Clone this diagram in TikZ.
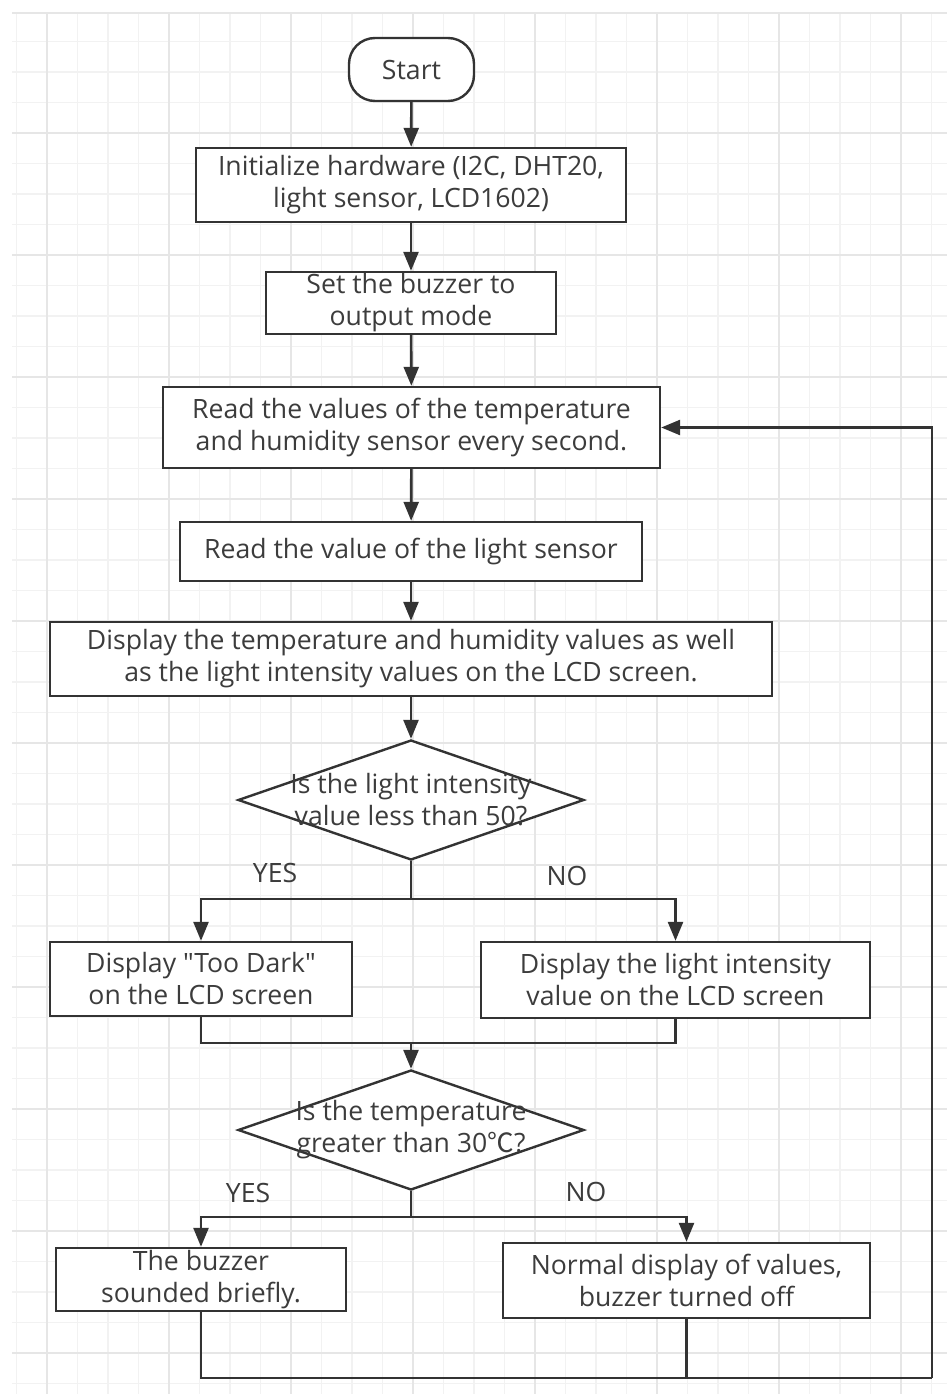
\documentclass[tikz,border=0pt]{standalone}
\usepackage{fontspec}
% plain family (no TeX ligature mapping) so " stays a straight quote
\newfontfamily\flowfont{Open Sans}
\newfontfamily\cjkfont{Noto Sans CJK SC}
\usetikzlibrary{shapes.geometric,arrows.meta}
\definecolor{ink}{HTML}{333333}
\definecolor{txt}{HTML}{3C3C3C}
\definecolor{gridminor}{HTML}{F2F2F2}
\definecolor{gridmajor}{HTML}{E6E6E6}
\begin{document}
\begin{tikzpicture}[x=1pt,y=-1pt,
  every node/.style={font=\flowfont\fontsize{26.6}{32}\selectfont, text=txt},
  procbox/.style={draw=ink, line width=2.4pt, fill=white, rectangle, align=center, inner sep=0pt},
  termbox/.style={procbox, rounded corners=26pt},
  decbox/.style={draw=ink, line width=2.4pt, fill=white, diamond, inner sep=0pt},
  flow/.style={draw=ink, line width=2.6pt},
  arr/.style={flow, -{Triangle[length=19pt,width=15pt]}},
  lbl/.style={inner sep=0pt}
]
% page and grid paper
\fill[white] (0,0) rectangle (947,1394);
\useasboundingbox (0,0) rectangle (947,1394);
\begin{scope}
  \clip (12,13) rectangle (947,1394);
  \foreach \k in {0,...,31} {
    \draw[gridminor, line width=1.6pt] (16.5+30.5*\k,13) -- (16.5+30.5*\k,1394);
  }
  \foreach \k in {0,...,45} {
    \draw[gridminor, line width=1.6pt] (12,11+30.5*\k) -- (947,11+30.5*\k);
  }
  \foreach \k in {0,...,7} {
    \draw[gridmajor, line width=1.8pt] (47+122*\k,13) -- (47+122*\k,1394);
  }
  \foreach \k in {0,...,10} {
    \draw[gridmajor, line width=1.8pt] (12,133+122*\k) -- (947,133+122*\k);
  }
  \draw[gridmajor, line width=1.8pt] (12,13) -- (947,13);
\end{scope}

% steps
\node[termbox, minimum width=125pt, minimum height=63pt] (start) at (411.5,69.5) {Start};
\node[procbox, minimum width=430pt, minimum height=74pt] (init) at (411,185)
  {Initialize hardware (I2C, DHT20,\\ light sensor, LCD1602)};
\node[procbox, minimum width=290pt, minimum height=62pt] (buzmode) at (411,303)
  {Set the buzzer to\\ output mode};
\node[procbox, minimum width=497pt, minimum height=81pt] (readt) at (411.5,427.5)
  {Read the values of the temperature\\ and humidity sensor every second.};
\node[procbox, minimum width=462pt, minimum height=59pt] (readl) at (411,551.5)
  {Read the value of the light sensor};
\node[procbox, minimum width=722pt, minimum height=74pt] (disp) at (411,659)
  {Display the temperature and humidity values as well\\ as the light intensity values on the LCD screen.};

\node[decbox, minimum width=346pt, minimum height=120pt] (dec1) at (411,800) {};
\node[lbl, align=center] (dec1t) at (411,800) {Is the light intensity\\ value less than 50?};

\node[procbox, minimum width=302pt, minimum height=74pt] (dark) at (201,979)
  {Display "Too Dark"\\ on the LCD screen};
\node[procbox, minimum width=389pt, minimum height=76pt] (lval) at (675.5,980)
  {Display the light intensity\\ value on the LCD screen};

\node[decbox, minimum width=346pt, minimum height=120pt] (dec2) at (411,1130) {};
\node[lbl, align=center] (dec2t) at (411,1130) {Is the temperature\\ greater than 30{\cjkfont ℃}?};

\node[procbox, minimum width=290pt, minimum height=63pt] (buzz) at (201,1279.5)
  {The buzzer\\ sounded briefly.};
\node[procbox, minimum width=367pt, minimum height=75pt] (norm) at (686.5,1280.5)
  {Normal display of values,\\ buzzer turned off};

% branch labels
\node[lbl] (yes1) at (275,873) {YES};
\node[lbl] (no1) at (567,876) {NO};
\node[lbl] (yes2) at (248,1193) {YES};
\node[lbl] (no2) at (586,1192) {NO};

% junction points
\coordinate (s1) at (411,899);
\coordinate (m1) at (411,1043);
\coordinate (s2) at (411,1217);
\coordinate (b1) at (201,1378);
\coordinate (b2) at (932,1378);

% connectors
\draw[arr] (start) -- (init);
\draw[arr] (init) -- (buzmode);
\draw[arr] (buzmode) -- (readt);
\draw[arr] (readt) -- (readl);
\draw[arr] (readl) -- (disp);
\draw[arr] (disp) -- (dec1);

\draw[flow] (dec1.south) -- (s1);
\draw[arr] (s1) -| (dark.north);
\draw[arr] (s1) -| (lval.north);

\draw[flow] (dark.south) |- (m1);
\draw[flow] (lval.south) |- (m1);
\draw[arr] (m1) -- (dec2.north);

\draw[flow] (dec2.south) -- (s2);
\draw[arr] (s2) -| (buzz.north);
\draw[arr] (s2) -| (norm.north);

\draw[flow] (buzz.south) -- (b1) -- (b2);
\draw[flow] (norm.south) -- (norm.south |- b1);
\draw[arr] (b2) |- (readt.east);
\end{tikzpicture}
\end{document}
